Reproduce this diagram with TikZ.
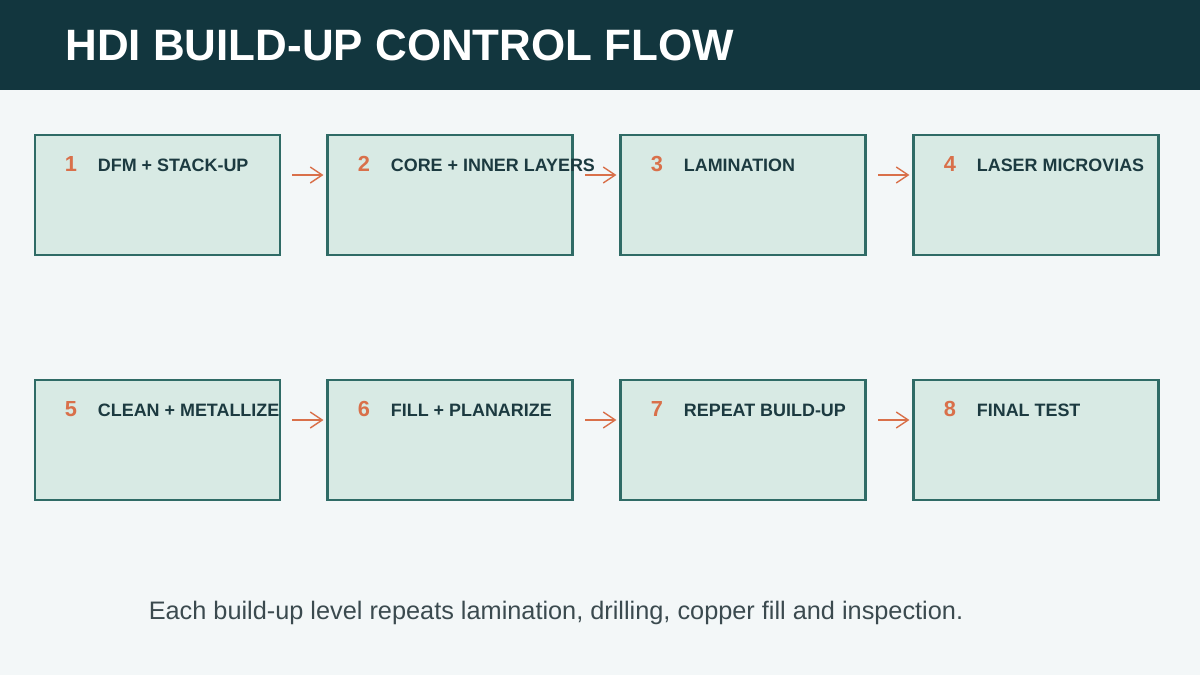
\documentclass[tikz,border=0pt]{standalone}
\usepackage{fontspec}
\setmainfont{Liberation Sans}
\usetikzlibrary{arrows.meta}
\usetikzlibrary{positioning}

\definecolor{headbg}{HTML}{12363E}
\definecolor{pagebg}{HTML}{F3F7F8}
\definecolor{boxfill}{HTML}{D8EAE4}
\definecolor{boxline}{HTML}{2F6B66}
\definecolor{accent}{HTML}{D9704A}
\definecolor{labeltext}{HTML}{1C3A40}
\definecolor{foottext}{HTML}{3B4A4F}

\tikzset{
  stage/.style={draw=boxline, fill=boxfill, line width=0.85pt, minimum width=2.45cm, minimum height=1.2cm, inner sep=0pt},
  num/.style={text=accent, font=\bfseries\fontsize{6.2}{7}\selectfont, anchor=base west},
  lbl/.style={text=labeltext, font=\bfseries\fontsize{5.1}{6}\selectfont, anchor=base west},
  flow/.style={accent, line width=0.4pt, -{Straight Barb[length=1.2mm,width=1.6mm]}, shorten <=0.11cm, shorten >=0.03cm}
}

\begin{document}
\begin{tikzpicture}[x=1cm, y=1cm]

    \fill[pagebg] (0,0) rectangle (12,-6.75);
    \useasboundingbox (0,0) rectangle (12,-6.75);
    \fill[headbg] (0,0) rectangle (12,-0.9);
    \node[anchor=base west, text=white, font=\bfseries\fontsize{12.5}{14}\selectfont] (title) at (0.53,-0.6) {HDI BUILD-UP CONTROL FLOW};

    % row one
    \node[stage] (s1) at (1.575,-1.95) {};
    \node[stage, right=0.45cm of s1] (s2) {};
    \node[stage, right=0.45cm of s2] (s3) {};
    \node[stage, right=0.45cm of s3] (s4) {};

    % row two
    \node[stage] (s5) at (1.575,-4.40) {};
    \node[stage, right=0.45cm of s5] (s6) {};
    \node[stage, right=0.45cm of s6] (s7) {};
    \node[stage, right=0.45cm of s7] (s8) {};

    \foreach \i/\txt in {1/DFM + STACK-UP, 2/CORE + INNER LAYERS, 3/LAMINATION, 4/LASER MICROVIAS,
                         5/CLEAN + METALLIZE, 6/FILL + PLANARIZE, 7/REPEAT BUILD-UP, 8/FINAL TEST} {
      \node[num] (n\i) at ([xshift=0.19cm, yshift=-0.38cm]s\i.north west) {\i};
      \node[lbl] (l\i) at ([xshift=0.52cm, yshift=-0.38cm]s\i.north west) {\txt};
    }

    \foreach \a/\b in {1/2, 2/3, 3/4, 5/6, 6/7, 7/8}
      \draw[flow] ([yshift=0.2cm]s\a.east) -- ([yshift=0.2cm]s\b.west);

    \node[text=foottext, font=\fontsize{7.2}{8}\selectfont] (foot) at (5.56,-6.13) {Each build-up level repeats lamination, drilling, copper fill and inspection.};

\end{tikzpicture}
\end{document}
